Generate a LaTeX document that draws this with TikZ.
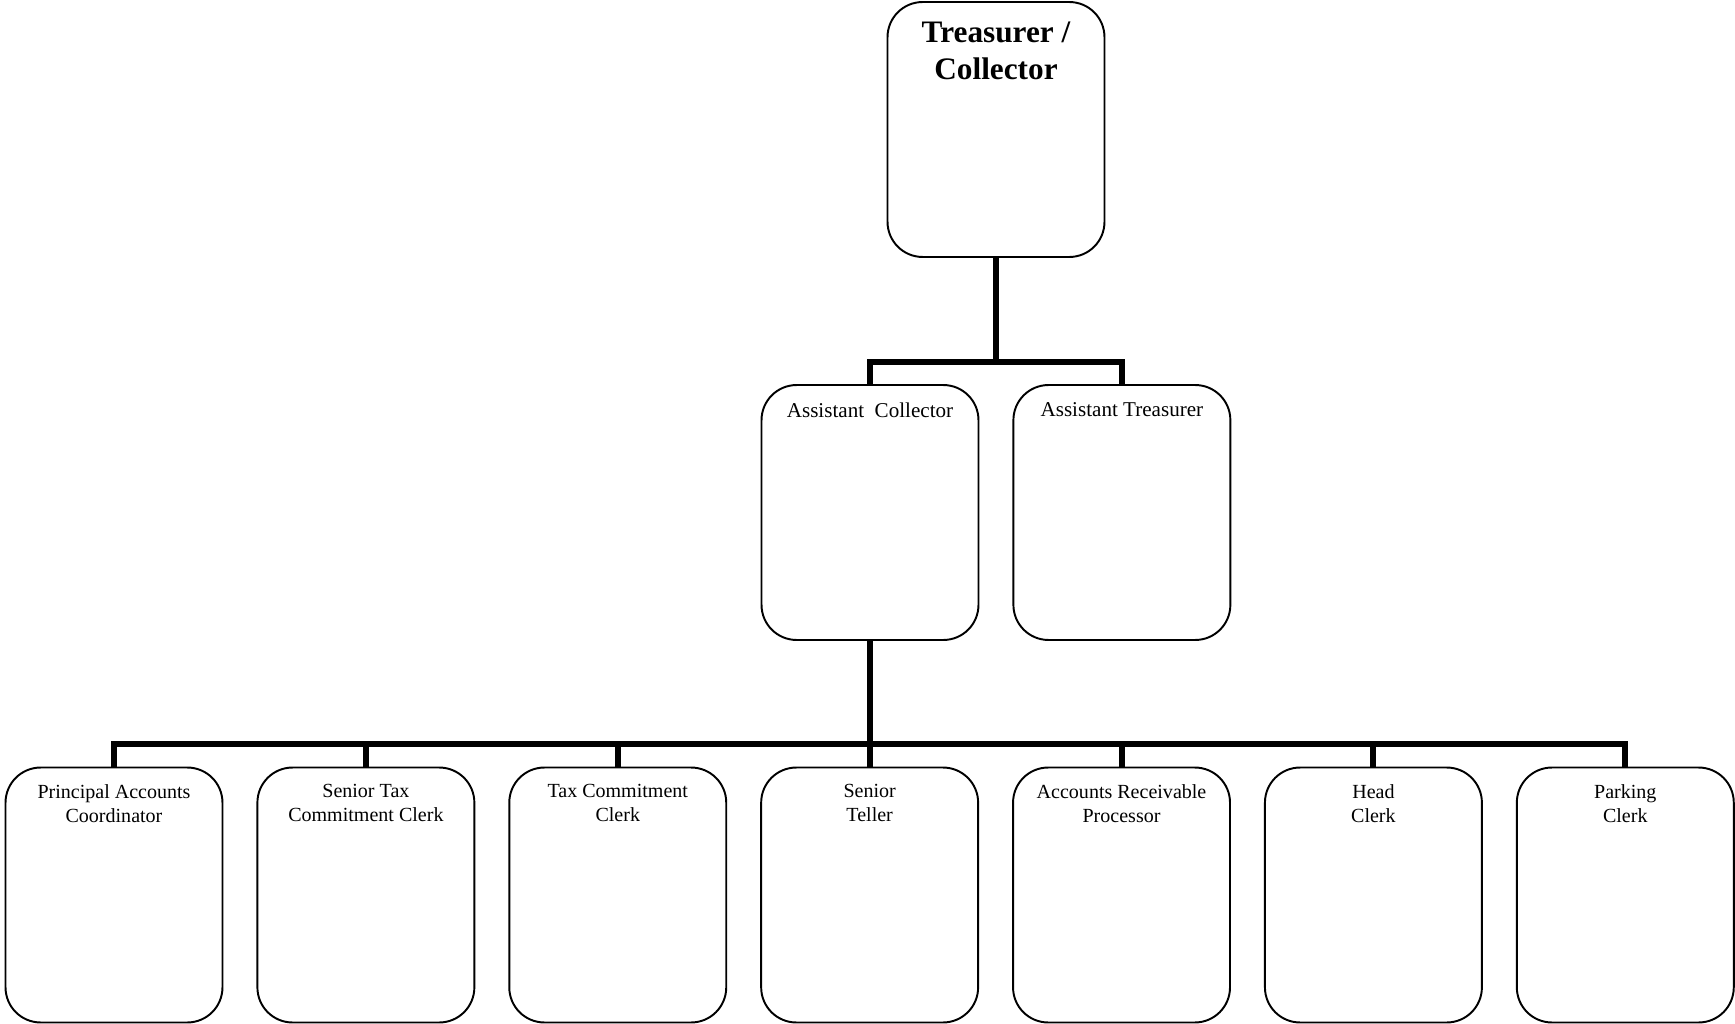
\documentclass[tikz,border=0pt]{standalone}
\usepackage{fontspec}
\setmainfont{Liberation Serif}
\usetikzlibrary{positioning}
\tikzset{
  post/.style  = {draw=black, line width=1.1pt, rounded corners=20pt,
                  minimum width=4.34cm, minimum height=5.1cm, inner sep=0pt},
  ttl/.style   = {anchor=north, yshift=-7.2pt, align=center,
                  font=\fontsize{12}{13.6}\selectfont},
  ttls/.style  = {anchor=north, yshift=-6.8pt, align=center,
                  font=\fontsize{11.4}{13.6}\selectfont},
  ttlb/.style  = {anchor=north, yshift=-8.6pt, align=center,
                  font=\fontsize{17.8}{20.8}\selectfont\bfseries},
  link/.style  = {draw=black, line width=3.4pt},
}

\begin{document}
\begin{tikzpicture}[x=0.02cm, y=-0.02cm]
  \useasboundingbox (0,0) rectangle (1735,1024);
  % top level
  \node[post, label={[ttlb]north:Treasurer /\\Collector}] (tc) at (996,129.5) {};
  % assistants
  \node[post, label={[ttl]north:Assistant~~Collector}] (ac) at (870,512.5) {};
  \node[post, right=6.6mm of ac, label={[ttl]north:Assistant Treasurer}] (at) {};
  % staff
  \node[post, label={[ttls]north:Principal Accounts\\Coordinator}] (s1) at (114,895) {};
  \node[post, right=6.6mm of s1, label={[ttls]north:Senior Tax\\Commitment Clerk}] (s2) {};
  \node[post, right=6.6mm of s2, label={[ttls]north:Tax Commitment\\Clerk}] (s3) {};
  \node[post, right=6.6mm of s3, label={[ttls]north:Senior\\Teller}] (s4) {};
  \node[post, right=6.6mm of s4, label={[ttls]north:Accounts Receivable\\Processor}] (s5) {};
  \node[post, right=6.6mm of s5, label={[ttls]north:Head\\Clerk}] (s6) {};
  \node[post, right=6.6mm of s6, label={[ttls]north:Parking\\Clerk}] (s7) {};
  % connectors
  \coordinate (j1) at (996,362);
  \coordinate (j2) at (870,744);
  \draw[link] (tc.south) -- (j1);
  \foreach \a in {ac,at}{\draw[link] (j1) -| (\a.north);}
  \draw[link] (ac.south) -- (j2);
  \foreach \s in {s1,s2,s3,s4,s5,s6,s7}{\draw[link] (j2) -| (\s.north);}
\end{tikzpicture}
\end{document}
